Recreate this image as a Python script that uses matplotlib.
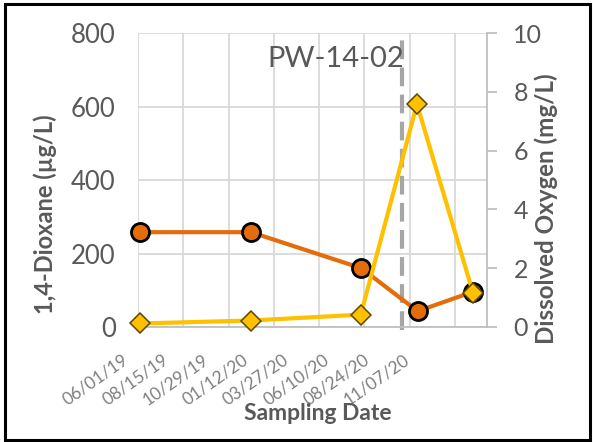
import matplotlib
matplotlib.use("Agg")
import matplotlib.pyplot as plt
import matplotlib.dates as mdates
import numpy as np
from datetime import datetime, timedelta

# Sampling data for well PW-14-02
sample_dates = ["2019-06-05", "2019-12-05", "2020-06-05", "2020-09-06", "2020-12-07"]
dioxane_ugL = [258, 258, 160, 43, 96]
do_dates = ["2019-06-05", "2019-12-05", "2020-06-04", "2020-09-05", "2020-12-07"]
do_mgL = [0.12, 0.22, 0.42, 7.58, 1.15]
event_date = "2020-08-12"

tick_start = datetime(2019, 6, 1)
tick_step_days = 75
n_ticks = 8
x_end_days = 578

title = "PW-14-02"
left_label = "1,4-Dioxane (\u00b5g/L)"
right_label = "Dissolved Oxygen (mg/L)"
x_label = "Sampling Date"

plt.rcParams['font.family'] = ['Lato', 'DejaVu Sans']
grey_txt = "#595959"
grid_c = "#D9D9D9"
orange = "#E46C0A"
yellow = "#FFC000"

fig = plt.figure(figsize=(5.93, 4.42), dpi=100)
ax = fig.add_axes([138/593, 1 - 327/442, (487-138)/593, (327-33)/442])

to_dt = lambda s: datetime.strptime(s, "%Y-%m-%d")
xd = [to_dt(s) for s in sample_dates]
xo = [to_dt(s) for s in do_dates]

ticks = [tick_start + timedelta(days=tick_step_days * i) for i in range(n_ticks)]
ax.set_xlim(tick_start, tick_start + timedelta(days=x_end_days))
ax.set_ylim(0, 800)
ax.set_yticks(np.arange(0, 801, 200))
ax.set_xticks(ticks)
ax.set_xticklabels([])
ax.grid(True, color=grid_c, lw=1.3)
ax.set_axisbelow(True)
for s in ["top", "right", "left"]:
    ax.spines[s].set_visible(False)
ax.spines["bottom"].set_color("#BFBFBF")
ax.spines["bottom"].set_linewidth(1.3)
ax.tick_params(axis="both", length=0, colors=grey_txt)
ax.tick_params(axis="y", labelsize=18.5, pad=16)

# rotated date labels, packed slightly tighter than the gridlines
for i, t in enumerate(ticks):
    ax.annotate(t.strftime("%m/%d/%y"), xy=(mdates.date2num(t), 0),
                xycoords=("data", "axes fraction"),
                xytext=(-16 - 5.2 * i, -24), textcoords="offset pixels",
                rotation=35, rotation_mode="anchor", ha="right", va="top",
                fontsize=12.5, color="#7F7F7F", annotation_clip=False)

ax.axvline(to_dt(event_date), ymin=-0.01, ymax=0.976, color="#A6A6A6", lw=3,
           ls=(0, (4.5, 2.0)), zorder=2, clip_on=False)

ax.plot(xd, dioxane_ugL, color=orange, lw=3, marker="o", ms=13,
        mfc=orange, mec="black", mew=2.0, zorder=4, clip_on=False)

ax2 = ax.twinx()
ax2.set_ylim(0, 10)
ax2.set_yticks(np.arange(0, 11, 2))
for s in ["top", "left", "bottom"]:
    ax2.spines[s].set_visible(False)
ax2.spines["right"].set_color("#BFBFBF")
ax2.spines["right"].set_linewidth(1.3)
ax2.tick_params(axis="y", length=7, width=1.3, color="#BFBFBF", colors=grey_txt,
                labelsize=18, pad=12)
ax2.tick_params(axis="y", color="#BFBFBF")
ax2.plot(xo, do_mgL, color=yellow, lw=3, marker="D", ms=10.5,
         mfc=yellow, mec="#5A4A00", mew=1.1, zorder=5, clip_on=False)

fig.text(336/593, 1 - 59/442, title, ha="center", va="center", fontsize=21, color=grey_txt)
fig.text(45/593, 1 - 214/442, left_label, rotation=90, ha="center", va="center",
         fontsize=17, fontweight="bold", color=grey_txt)
fig.text(546/593, 1 - 209/442, right_label, rotation=90, ha="center", va="center",
         fontsize=17.4, fontweight="bold", color=grey_txt)
fig.text(318/593, 1 - 414/442, x_label, ha="center", va="center",
         fontsize=16.5, fontweight="bold", color=grey_txt)

# outer frame
fig.patches.append(plt.Rectangle((5/593, 1 - 440/442), 585/593, 436/442, transform=fig.transFigure,
                                 fill=False, ec="black", lw=2.2))

fig.savefig("out.png", dpi=100)
